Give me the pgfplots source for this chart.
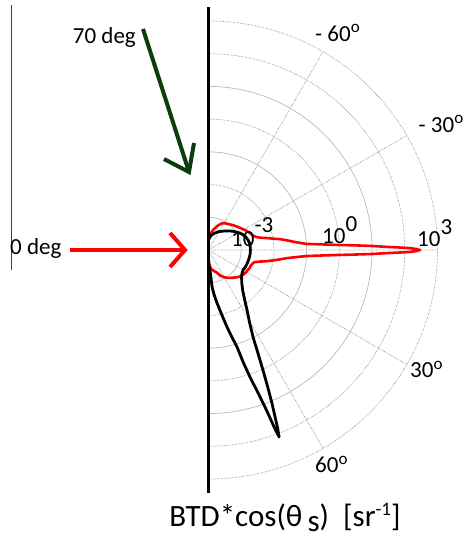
\documentclass[border=0pt]{standalone}
\usepackage{fontspec}
\setmainfont{Carlito}
\usepackage{pgfplots}
\pgfplotsset{compat=1.18}
\usepgfplotslibrary{polar}
\definecolor{arrowgreen}{RGB}{12,62,12}
\definecolor{gridgray}{RGB}{115,115,115}
\newcommand\lab{\fontsize{23pt}{27pt}\selectfont}
\newcommand\degsym{\raisebox{9pt}{\fontsize{17pt}{17pt}\selectfont o}}
\begin{document}
\begin{tikzpicture}
\begin{polaraxis}[
  scale only axis, width=458pt, height=458pt,
  xmin=-90, xmax=90, ymin=0, ymax=7,
  xtick={-60,-30,0,30,60}, xticklabels={},
  ytick={2,4,6,7}, yticklabels={},
  extra y ticks={1,3,5}, extra y tick labels={},
  extra y tick style={major grid style={solid, gray!55, line width=0.7pt}},
  grid=major,
  major grid style={densely dotted, gridgray, line width=0.7pt},
  major tick length=0pt,
  axis line style={draw=none},
  clip=false,
]
% red: 0 deg incidence; (angle, log10(value)+4)
\addplot[red, line width=2.6pt, line join=round] coordinates {
(-90,0.26) (-88,0.42) (-85,0.5) (-82,0.58) (-78,0.63) (-74,0.68) (-70,0.73)
(-66,0.84) (-62,0.93) (-58,0.99) (-55,1.04) (-52,1.08) (-48,1.14) (-44,1.2)
(-40,1.26) (-36,1.29) (-32,1.33) (-28,1.34) (-24,1.37) (-20,1.38) (-17,1.41)
(-15,1.45) (-13,1.58) (-11,1.8) (-9,2.02) (-7.5,2.2) (-6,2.4) (-5,2.6)
(-4.2,2.8) (-3.5,3.02) (-2.8,3.45) (-2.2,3.95) (-1.8,4.45) (-1.4,5.0)
(-1.0,5.45) (-0.75,5.85) (-0.55,6.15) (-0.3,6.35) (0,6.47) (0.3,6.33)
(0.55,6.14) (0.75,5.84) (1.0,5.45) (1.4,5.02) (1.8,4.5) (2.2,4.0) (2.8,3.5)
(3.5,3.03) (4.2,2.85) (5,2.7) (6,2.55) (7,2.42) (8.7,2.2) (10,2.0)
(11.5,1.83) (13,1.66) (15,1.52) (18,1.43) (22,1.37) (26,1.31) (30,1.25)
(35,1.18) (40,1.12) (45,1.07) (50,1.02) (55,0.98) (60,0.95) (64,0.9)
(68,0.82) (72,0.73) (76,0.65) (80,0.56) (84,0.46) (87,0.38) (90,0.28)
};
% black: 70 deg incidence
\addplot[black, line width=2.8pt, line join=round] coordinates {
(-90,0.3) (-88,0.45) (-86,0.6) (-85,0.85) (-84.4,1.14) (-83,1.36)
(-80.9,1.64) (-78.5,2.0) (-76.5,2.42) (-75,2.75) (-73.6,3.09) (-72.8,3.6)
(-71.9,4.09) (-70.9,4.6) (-70.1,5.2) (-69.6,5.85) (-69.3,6.11) (-68.8,5.85)
(-68.1,5.4) (-67.5,5.07) (-66.6,4.55) (-65.6,4.03) (-64.4,3.5) (-62.9,2.99)
(-60.5,2.55) (-57.3,2.18) (-54,1.88) (-50,1.63) (-45,1.44) (-40,1.32)
(-35,1.25) (-30,1.22) (-25,1.24) (-20,1.25) (-15,1.26) (-10,1.27) (-5,1.28)
(0,1.28) (5,1.28) (10,1.27) (15,1.24) (20,1.2) (25,1.14) (30,1.06) (35,0.98)
(40,0.9) (45,0.82) (50,0.76) (60,0.65) (70,0.55) (80,0.45) (85,0.38) (90,0.3)
};
\coordinate (c) at (axis cs:0,0);
\end{polaraxis}
\pgfresetboundingbox
\path[use as bounding box] ([shift={(-208.5pt,-289pt)}]c) rectangle ++(466pt,539pt);
\begin{scope}[shift={(c)}, x=1pt, y=1pt]
  % axis line and left thin line
  \draw[black, line width=2.8pt] (0,243) -- (0,-243);
  \draw[black!75, line width=0.9pt] (-197.5,245) -- (-197.5,-20);
  % arrows
  \draw[arrowgreen, line width=4pt] (-65.5,221) -- (-19.5,78);
  \draw[arrowgreen, line width=4pt, line join=miter] (-44.5,91) -- (-19.5,78) -- (-14.5,107);
  \draw[red, line width=4pt] (-138.5,0) -- (-23.5,0);
  \draw[red, line width=4pt, line join=miter] (-38.5,17) -- (-23.5,0) -- (-38.5,-17);
  % annotations
  \node[anchor=base east, inner sep=0] at (-72.5,206.5) {\lab 70 deg};
  \node[anchor=base west, inner sep=0] at (-198.5,-5) {\lab 0 deg};
  % radial labels
  \node[anchor=base west, inner sep=0] at (22.5,3) {\lab 10\raisebox{14pt}{-3}};
  \node[anchor=base west, inner sep=0] at (113.5,6) {\lab 10\raisebox{12pt}{0}};
  \node[anchor=base west, inner sep=0] at (208.5,3) {\lab 10\raisebox{12pt}{3}};
  % angle labels
  \node[anchor=base west, inner sep=0] at (106.5,208) {\lab - 60\degsym};
  \node[anchor=base west, inner sep=0] at (210,117) {\lab - 30\degsym};
  \node[anchor=base west, inner sep=0] at (201.5,-128) {\lab 30\degsym};
  \node[anchor=base west, inner sep=0] at (106.5,-223) {\lab 60\degsym};
  % axis label
  \node[anchor=base, inner sep=0] at (76.5,-276) {\fontsize{31pt}{36pt}\selectfont BTD*cos(θ\,\raisebox{-5pt}{s})~~[sr\raisebox{11pt}{\fontsize{19pt}{19pt}\selectfont -1}]};
\end{scope}
\end{tikzpicture}
\end{document}
